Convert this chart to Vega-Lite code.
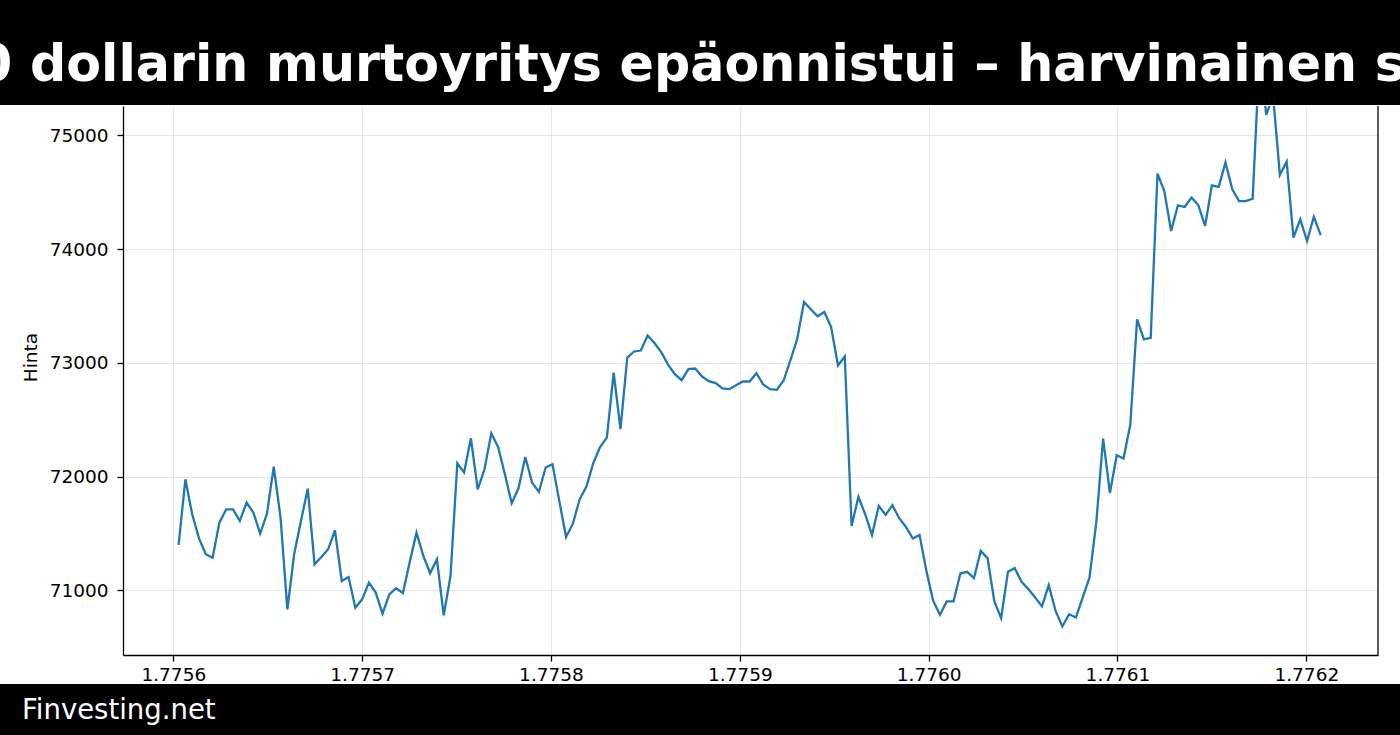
{
  "$schema": "https://vega.github.io/schema/vega-lite/v6.json",
  "padding": 0,
  "spacing": 0,
  "background": "white",
  "config": {"view": {"stroke": null}, "font": "DejaVu Sans"},
  "vconcat": [
    {
      "width": 1400,
      "height": 105,
      "view": {"fill": "black", "stroke": null},
      "data": {"values": [{"title": "0 dollarin murtoyritys epäonnistui – harvinainen s"}]},
      "mark": {"type": "text", "clip": true, "color": "white", "font": "DejaVu Sans", "fontWeight": "bold", "fontSize": 50.7, "align": "center", "baseline": "alphabetic", "dx": -9, "dy": 28},
      "encoding": {"text": {"field": "title"}}
    },
    {
      "width": 1400,
      "height": 549,
      "layer": [
        {
          "data": {"values": [
            {"t": 1775602800, "price": 71400}, {"t": 1775606400, "price": 71977}, {"t": 1775610000, "price": 71669}, {"t": 1775613600, "price": 71458},
            {"t": 1775617200, "price": 71318}, {"t": 1775620800, "price": 71288}, {"t": 1775624400, "price": 71596}, {"t": 1775628000, "price": 71713},
            {"t": 1775631600, "price": 71713}, {"t": 1775635200, "price": 71611}, {"t": 1775638800, "price": 71772}, {"t": 1775642400, "price": 71684},
            {"t": 1775646000, "price": 71499}, {"t": 1775649600, "price": 71675}, {"t": 1775653200, "price": 72088}, {"t": 1775656800, "price": 71640},
            {"t": 1775660400, "price": 70834}, {"t": 1775664000, "price": 71318}, {"t": 1775667600, "price": 71611}, {"t": 1775671200, "price": 71895},
            {"t": 1775674800, "price": 71230}, {"t": 1775678400, "price": 71294}, {"t": 1775682000, "price": 71362}, {"t": 1775685600, "price": 71529},
            {"t": 1775689200, "price": 71083}, {"t": 1775692800, "price": 71118}, {"t": 1775696400, "price": 70849}, {"t": 1775700000, "price": 70922},
            {"t": 1775703600, "price": 71069}, {"t": 1775707200, "price": 70981}, {"t": 1775710800, "price": 70796}, {"t": 1775714400, "price": 70966},
            {"t": 1775718000, "price": 71020}, {"t": 1775721600, "price": 70978}, {"t": 1775725200, "price": 71250}, {"t": 1775728800, "price": 71508},
            {"t": 1775732400, "price": 71303}, {"t": 1775736000, "price": 71151}, {"t": 1775739600, "price": 71274}, {"t": 1775743200, "price": 70782},
            {"t": 1775746800, "price": 71127}, {"t": 1775750400, "price": 72118}, {"t": 1775754000, "price": 72036}, {"t": 1775757600, "price": 72337},
            {"t": 1775761200, "price": 71889}, {"t": 1775764800, "price": 72065}, {"t": 1775768400, "price": 72381}, {"t": 1775772000, "price": 72261},
            {"t": 1775775600, "price": 72021}, {"t": 1775779200, "price": 71766}, {"t": 1775782800, "price": 71898}, {"t": 1775786400, "price": 72173},
            {"t": 1775790000, "price": 71948}, {"t": 1775793600, "price": 71866}, {"t": 1775797200, "price": 72080}, {"t": 1775800800, "price": 72109},
            {"t": 1775804400, "price": 71787}, {"t": 1775808000, "price": 71470}, {"t": 1775811600, "price": 71587}, {"t": 1775815200, "price": 71801},
            {"t": 1775818800, "price": 71913}, {"t": 1775822400, "price": 72118}, {"t": 1775826000, "price": 72261}, {"t": 1775829600, "price": 72343},
            {"t": 1775833200, "price": 72915}, {"t": 1775836800, "price": 72417}, {"t": 1775840400, "price": 73046}, {"t": 1775844000, "price": 73100},
            {"t": 1775847600, "price": 73108}, {"t": 1775851200, "price": 73240}, {"t": 1775854800, "price": 73175}, {"t": 1775858400, "price": 73094},
            {"t": 1775862000, "price": 72985}, {"t": 1775865600, "price": 72901}, {"t": 1775869200, "price": 72848}, {"t": 1775872800, "price": 72945},
            {"t": 1775876400, "price": 72950}, {"t": 1775880000, "price": 72880}, {"t": 1775883600, "price": 72839}, {"t": 1775887200, "price": 72822},
            {"t": 1775890800, "price": 72775}, {"t": 1775894400, "price": 72769}, {"t": 1775898000, "price": 72804}, {"t": 1775901600, "price": 72836},
            {"t": 1775905200, "price": 72836}, {"t": 1775908800, "price": 72909}, {"t": 1775912400, "price": 72810}, {"t": 1775916000, "price": 72769},
            {"t": 1775919600, "price": 72763}, {"t": 1775923200, "price": 72845}, {"t": 1775926800, "price": 73023}, {"t": 1775930400, "price": 73211},
            {"t": 1775934000, "price": 73535}, {"t": 1775937600, "price": 73471}, {"t": 1775941200, "price": 73409}, {"t": 1775944800, "price": 73447},
            {"t": 1775948400, "price": 73313}, {"t": 1775952000, "price": 72977}, {"t": 1775955600, "price": 73056}, {"t": 1775959200, "price": 71567},
            {"t": 1775962800, "price": 71822}, {"t": 1775966400, "price": 71670}, {"t": 1775970000, "price": 71488}, {"t": 1775973600, "price": 71743},
            {"t": 1775977200, "price": 71664}, {"t": 1775980800, "price": 71749}, {"t": 1775984400, "price": 71635}, {"t": 1775988000, "price": 71558},
            {"t": 1775991600, "price": 71456}, {"t": 1775995200, "price": 71488}, {"t": 1775998800, "price": 71173}, {"t": 1776002400, "price": 70909},
            {"t": 1776006000, "price": 70787}, {"t": 1776009600, "price": 70904}, {"t": 1776013200, "price": 70904}, {"t": 1776016800, "price": 71149},
            {"t": 1776020400, "price": 71164}, {"t": 1776024000, "price": 71108}, {"t": 1776027600, "price": 71348}, {"t": 1776031200, "price": 71284},
            {"t": 1776034800, "price": 70904}, {"t": 1776038400, "price": 70757}, {"t": 1776042000, "price": 71164}, {"t": 1776045600, "price": 71196},
            {"t": 1776049200, "price": 71076}, {"t": 1776052800, "price": 71012}, {"t": 1776056400, "price": 70939}, {"t": 1776060000, "price": 70860},
            {"t": 1776063600, "price": 71047}, {"t": 1776067200, "price": 70822}, {"t": 1776070800, "price": 70684}, {"t": 1776074400, "price": 70792},
            {"t": 1776078000, "price": 70763}, {"t": 1776081600, "price": 70939}, {"t": 1776085200, "price": 71114}, {"t": 1776088800, "price": 71600},
            {"t": 1776092400, "price": 72335}, {"t": 1776096000, "price": 71857}, {"t": 1776099600, "price": 72188}, {"t": 1776103200, "price": 72159},
            {"t": 1776106800, "price": 72458}, {"t": 1776110400, "price": 73382}, {"t": 1776114000, "price": 73206}, {"t": 1776117600, "price": 73220},
            {"t": 1776121200, "price": 74663}, {"t": 1776124800, "price": 74510}, {"t": 1776128400, "price": 74159}, {"t": 1776132000, "price": 74384},
            {"t": 1776135600, "price": 74370}, {"t": 1776139200, "price": 74452}, {"t": 1776142800, "price": 74387}, {"t": 1776146400, "price": 74203},
            {"t": 1776150000, "price": 74560}, {"t": 1776153600, "price": 74546}, {"t": 1776157200, "price": 74760}, {"t": 1776160800, "price": 74525},
            {"t": 1776164400, "price": 74422}, {"t": 1776168000, "price": 74422}, {"t": 1776171600, "price": 74443}, {"t": 1776175200, "price": 75700},
            {"t": 1776178800, "price": 75180}, {"t": 1776182400, "price": 75350}, {"t": 1776186000, "price": 74651}, {"t": 1776189600, "price": 74768},
            {"t": 1776193200, "price": 74100}, {"t": 1776196800, "price": 74261}, {"t": 1776200400, "price": 74071}, {"t": 1776204000, "price": 74285},
            {"t": 1776207600, "price": 74123}
          ]},
          "mark": {"type": "line", "clip": true, "color": "#1f77b4", "strokeWidth": 2.3},
          "encoding": {
            "x": {
              "field": "t", "type": "quantitative",
              "scale": {"domain": [1775573362, 1776237971], "range": [123, 1378], "nice": false, "zero": false},
              "axis": {
                "title": null,
                "values": [1775600000, 1775700000, 1775800000, 1775900000, 1776000000, 1776100000, 1776200000],
                "labelExpr": "format(datum.value / 1000000000, '.4f')",
                "grid": true, "gridColor": "#b0b0b0", "gridOpacity": 0.3, "gridWidth": 1,
                "domainColor": "black", "domainWidth": 1.3,
                "tickColor": "black", "tickSize": 6, "tickWidth": 1.3,
                "labelColor": "black", "labelFont": "DejaVu Sans", "labelFontSize": 18.5, "labelPadding": 4,
                "labelFlush": false, "labelOverlap": false
              }
            },
            "y": {
              "field": "price", "type": "quantitative",
              "scale": {"domain": [70433, 75257], "nice": false, "zero": false},
              "axis": {
                "title": "Hinta", "titleFont": "DejaVu Sans", "titleFontSize": 18.5, "titleFontWeight": "normal", "titleColor": "black", "titlePadding": 9,
                "titleY": 251,
                "offset": -123,
                "values": [71000, 72000, 73000, 74000, 75000], "format": "d",
                "grid": true, "gridColor": "#b0b0b0", "gridOpacity": 0.3, "gridWidth": 1,
                "domainColor": "black", "domainWidth": 1.3,
                "tickColor": "black", "tickSize": 6, "tickWidth": 1.3,
                "labelColor": "black", "labelFont": "DejaVu Sans", "labelFontSize": 18.5, "labelPadding": 9,
                "labelOverlap": false
              }
            }
          }
        },
        {
          "data": {"values": [{"xlim": 1776237971}]},
          "mark": {"type": "rule", "color": "black", "strokeWidth": 1.3},
          "encoding": {"x": {"field": "xlim", "type": "quantitative"}}
        }
      ]
    },
    {
      "width": 1400,
      "height": 52,
      "view": {"fill": "black", "stroke": null},
      "data": {"values": [{"site": "Finvesting.net"}]},
      "mark": {"type": "text", "clip": true, "color": "white", "font": "DejaVu Sans", "fontSize": 27.5, "align": "left", "baseline": "alphabetic", "dx": -678, "dy": 9},
      "encoding": {"text": {"field": "site"}}
    }
  ]
}
